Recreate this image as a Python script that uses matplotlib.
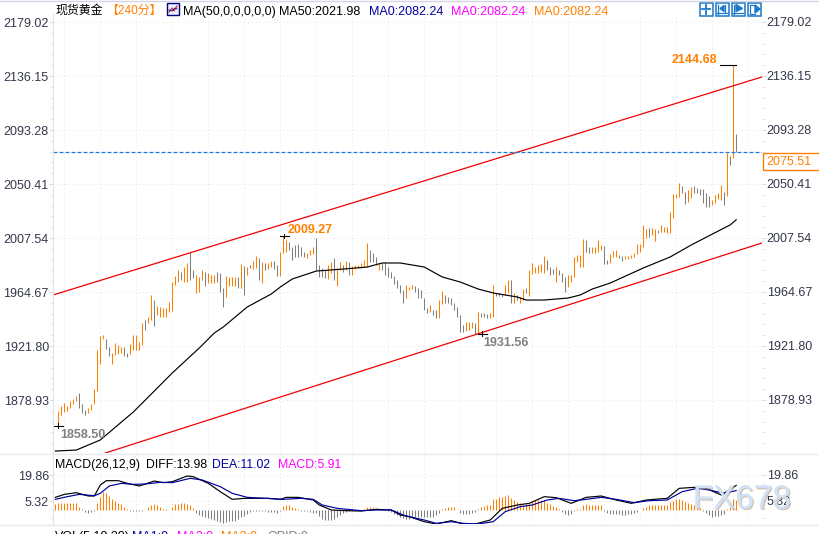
#!/usr/bin/env python3
"""Spot gold 240 minute chart with channel lines, MA50 and MACD panel."""

import numpy as np
import matplotlib
matplotlib.use('Agg')
import matplotlib.pyplot as plt
from matplotlib.patches import Rectangle, Polygon
from matplotlib.ticker import FixedLocator
from matplotlib import patheffects
from matplotlib.transforms import ScaledTranslation

plt.rcParams['font.family'] = ['Liberation Sans', 'Noto Sans CJK SC', 'DejaVu Sans']

ORANGE = '#ff8000'
GRAY = '#808080'
BLUE = '#1a78c8'

# bar data
highs = [
    1870.2, 1874.2, 1876.3, 1874.2, 1878.4, 1879.4, 1882.1, 1884.2, 1875.7, 1871.0, 1872.3, 1875.5,
    1887.4, 1918.6, 1929.7, 1930.5, 1927.3, 1921.2, 1916.0, 1924.4, 1922.6, 1920.7, 1921.2, 1916.5,
    1923.4, 1930.5, 1930.5, 1925.2, 1940.3, 1942.4, 1945.1, 1962.3, 1958.3, 1953.5, 1952.5, 1951.7,
    1951.7, 1957.0, 1972.8, 1977.3, 1982.1, 1980.8, 1984.2, 1987.9, 1996.1, 1982.1, 1978.1, 1976.8,
    1982.1, 1980.8, 1979.5, 1978.1, 1978.1, 1980.8, 1979.5, 1967.6, 1977.3, 1976.3, 1976.8, 1976.8,
    1976.3, 1986.9, 1985.3, 1984.2, 1986.1, 1989.5, 1993.2, 1991.4, 1988.7,
    1987.5, 1987.5, 1989.3, 1989.6, 1986.1, 1996.7, 2009.27, 2006.0, 2004.7, 2000.7, 2002.0, 2002.5,
    2000.2, 1996.7, 1995.9, 1998.0, 2000.7, 2007.3, 1986.1, 1983.5, 1982.2, 1986.1, 1988.8, 1991.4,
    1983.5, 1988.8, 1986.1, 1989.6, 1988.8, 1985.3, 1986.1, 1986.1, 1987.5, 1990.1, 2003.3, 1998.0,
    1995.4, 1992.8, 1987.5, 1988.0, 1988.8, 1984.8, 1980.8, 1977.7, 1974.2, 1970.3, 1966.3, 1970.3,
    1968.9, 1970.3, 1969.5, 1967.6, 1966.3, 1959.7, 1951.7, 1954.4, 1950.4, 1950.4, 1958.4, 1965.5,
    1962.3, 1960.5, 1959.7, 1955.7, 1953.1, 1946.5, 1938.5, 1941.2, 1941.2, 1941.2, 1939.8, 1949.1,
    1947.8, 1947.8, 1947.2, 1947.8, 1970.3, 1963.6, 1963.6, 1963.1, 1970.3, 1974.2,
    1974.2, 1963.6, 1962.3, 1961.0, 1966.8, 1967.6, 1982.1, 1987.4, 1984.8, 1986.1, 1986.9, 1993.3,
    1990.1, 1984.8, 1982.7, 1984.8, 1982.1, 1979.5, 1976.9, 1978.2, 1978.2, 1992.7, 1994.0, 1994.0,
    2006.8, 2006.0, 2000.7, 2000.7, 2000.1, 2006.0, 2002.0, 2001.2, 1990.1, 1994.8, 1997.5, 1998.0,
    1994.0, 1993.3, 1993.3, 1993.3, 1994.0, 1995.9, 2002.8, 2002.8, 2017.9, 2014.4, 2015.2, 2015.2,
    2014.4, 2013.9, 2017.9, 2016.5, 2016.5, 2028.4, 2042.5, 2042.5, 2050.9, 2048.8, 2044.3, 2045.7,
    2048.3, 2048.8, 2047.0, 2046.2, 2046.2, 2043.0, 2040.9, 2037.7, 2041.7, 2043.5, 2049.6, 2044.3,
    2074.8, 2072.6, 2144.68, 2090.1,
]
lows = [
    1858.5, 1867.0, 1869.7, 1870.2, 1872.3, 1875.7, 1878.4, 1872.3, 1868.3, 1867.0, 1868.3, 1871.0,
    1875.5, 1886.3, 1907.5, 1927.3, 1919.4, 1913.8, 1907.5, 1914.6, 1915.4, 1916.5, 1913.8, 1912.8,
    1915.4, 1918.6, 1918.6, 1918.6, 1922.6, 1934.5, 1939.8, 1942.4, 1937.7, 1946.4, 1945.1, 1945.1,
    1944.5, 1949.0, 1949.8, 1970.2, 1972.3, 1974.2, 1972.8, 1972.8, 1974.2, 1975.5, 1964.1, 1964.9,
    1974.2, 1969.4, 1971.5, 1971.5, 1971.5, 1972.8, 1964.9, 1953.0, 1960.9, 1969.4, 1969.4, 1969.4,
    1967.6, 1967.6, 1962.3, 1978.1, 1983.4, 1982.6, 1983.4, 1974.2, 1971.5,
    1982.2, 1983.0, 1984.3, 1982.7, 1977.4, 1977.7, 1995.9, 1996.7, 1998.0, 1990.1, 1992.2, 1992.8,
    1993.3, 1992.8, 1991.4, 1994.1, 1994.6, 1982.2, 1976.9, 1976.9, 1975.6, 1974.8, 1979.5, 1974.2,
    1969.5, 1982.2, 1980.8, 1982.2, 1978.2, 1978.2, 1982.7, 1983.5, 1983.5, 1984.3, 1984.8, 1988.8,
    1988.8, 1986.1, 1982.2, 1982.2, 1978.2, 1976.9, 1975.6, 1971.1, 1967.6, 1963.6, 1955.7, 1959.7,
    1966.3, 1966.8, 1965.0, 1959.7, 1959.7, 1950.4, 1947.8, 1949.1, 1946.5, 1943.8, 1943.8, 1955.2,
    1955.7, 1955.7, 1954.4, 1950.4, 1945.1, 1933.2, 1933.2, 1934.0, 1934.5, 1935.9, 1931.56, 1932.5,
    1945.1, 1944.6, 1943.8, 1943.8, 1944.6, 1961.5, 1961.5, 1961.0, 1962.3, 1963.6,
    1955.7, 1955.7, 1958.3, 1956.2, 1958.3, 1963.6, 1961.5, 1979.0, 1979.5, 1980.0, 1980.8, 1979.5,
    1982.1, 1978.2, 1979.0, 1972.9, 1978.2, 1972.9, 1965.0, 1968.9, 1972.9, 1976.9, 1988.8, 1984.3,
    1984.8, 1996.7, 1995.4, 1995.4, 1995.9, 1996.7, 1998.0, 1986.9, 1986.9, 1987.4, 1992.2, 1992.7,
    1991.4, 1989.6, 1990.6, 1990.6, 1991.4, 1992.2, 1994.8, 1996.7, 2000.7, 2007.3, 2008.1, 2009.9,
    2005.4, 2011.2, 2012.6, 2012.6, 2011.8, 2011.8, 2023.2, 2039.0, 2040.4, 2043.0, 2034.5, 2036.4,
    2039.0, 2043.0, 2043.0, 2041.7, 2035.6, 2031.9, 2031.9, 2033.7, 2035.1, 2038.2, 2037.7, 2033.7,
    2040.9, 2065.5, 2071.3, 2075.51,
]
# o = rising bar, g = falling bar
bar_dirs = (
    'ooooooo' 'ggg' 'oooooo' 'gg' 'oooo' 'gg' 'ooooo' 'g' 'oo' 'g' 'oooooooo' 'g' 'oo' 'gg' 'ooo' 'g'
    'ooo' 'ggg' 'oooo' 'g' 'o' 'g' 'o' 'g' 'oo' 'g' 'o'
    'goo' 'gg' 'ooo' 'gggggg' 'ooo' 'gggg' 'oo' 'g' 'oo' 'g' 'o' 'g' 'oooooo' 'ggg' 'o' 'gggggggg'
    'ooo' 'ggggg' 'o' 'gg' 'oo' 'ggggggg' 'ooo' 'g' 'o' 'ggg' 'oo' 'ggg' 'oo'
    'gog' 'oo' 'g' 'oooooo' 'ggg' 'o' 'ggg' 'oooooo' 'gg' 'oooo' 'gg' 'ooo' 'gg' 'oooooooo' 'g' 'oo'
    'g' 'ooooooo' 'gg' 'oo' 'gggggg' 'oooo' 'g' 'o' 'g' 'o' 'g'
)
assert len(highs) == len(lows) == len(bar_dirs)

ma50_idx = [-1, 6, 14, 25, 28, 38, 47, 52, 55, 63, 71, 74, 78, 86, 95, 103, 108, 114, 122, 128, 134,
            140, 145, 153, 156, 162, 170, 174, 178, 184, 195, 204, 211, 222, 224, 226]
ma50 = [1838.4, 1839.2, 1847.2, 1869.4, 1876.5, 1900.4, 1920.2, 1932.1, 1936.9, 1952.8, 1963.1, 1968.6,
        1975.0, 1981.3, 1982.9, 1984.5, 1987.7, 1987.7, 1984.5, 1976.6, 1972.6, 1967.0, 1963.9, 1960.7,
        1958.3, 1958.3, 1959.9, 1962.3, 1967.0, 1971.8, 1983.7, 1992.5, 2002.0, 2015.5, 2017.9, 2021.98]

# channel lines: bar position and price at both ends
upper_idx = [-1.77, 234.6]
upper_price = [1962.3, 2135.4]
lower_idx = [15.6, 234.6]
lower_price = [1836.8, 2003.6]

last_close = 2075.51
price_ticks = [2179.02, 2136.15, 2093.28, 2050.41, 2007.54, 1964.67, 1921.80, 1878.93]
macd_ticks = [19.86, 5.32]

diff_idx = [-1, 2, 6, 10, 12, 14, 16, 20, 23, 27, 32, 35, 38, 43, 45, 50, 54, 58, 62, 70, 74, 76, 80, 85,
            87, 91, 96, 101, 106, 111, 114, 117, 122, 126, 131, 135, 139, 144, 148, 153, 157, 162, 166,
            171, 176, 181, 186, 191, 196, 203, 207, 212, 216, 221, 226]
diff = [7.18, 8.87, 9.83, 7.94, 7.94, 14.18, 16.64, 16.64, 15.13, 13.62, 16.45, 15.51, 16.08, 19.29, 18.91,
        15.13, 10.4, 6.05, 6.62, 6.62, 6.05, 7.18, 7.18, 5.67, 2.83, 0.0, -0.38, -0.57, 0.37, 0.0, -2.84,
        -3.79, -6.63, -7.95, -6.06, -7.95, -7.95, -5.68, 0.94, 2.83, 3.78, 7.56, 6.99, 3.78, 7.18, 7.94,
        5.67, 3.78, 5.67, 6.62, 12.29, 12.86, 12.29, 8.51, 13.98]
dea_idx = [-1, 3, 7, 12, 14, 17, 21, 25, 29, 34, 38, 44, 48, 54, 58, 63, 69, 75, 81, 85, 88, 93, 101, 106,
           111, 115, 117, 122, 126, 131, 135, 140, 145, 149, 154, 158, 163, 167, 172, 176, 181, 186, 192,
           197, 203, 208, 213, 217, 222, 226]
dea = [6.05, 7.56, 8.87, 8.13, 9.45, 13.62, 15.13, 14.56, 14.75, 15.7, 15.51, 17.97, 17.02, 13.24, 9.45,
       7.18, 6.62, 6.05, 6.62, 6.05, 2.83, 0.94, -0.38, 0.0, 0.0, -2.84, -3.79, -5.68, -7.57, -6.63, -7.57,
       -7.95, -6.63, -0.95, 1.89, 2.83, 5.67, 6.62, 5.29, 6.05, 7.18, 6.05, 4.16, 5.29, 5.67, 10.4, 12.29,
       11.35, 9.45, 11.02]
macd_hist = [
    3.41, 3.78, 3.78, 3.78, 3.78, 3.78, 3.78, 3.78, 1.51, 0.38, -0.95, -1.51, -1.14, -0.57, 4.16, 7.57,
    10.41, 9.46, 7.95, 6.24, 5.11, 4.16, 3.41, 1.51, 0.38, -0.38, -0.38, -0.57, -0.76, -0.38, -0.19, 1.51,
    3.03, 3.41, 2.65, 1.51, 0.57, 0.38, -0.19, 1.89, 3.41, 3.59, 3.78, 3.78, 3.59, 2.65, 1.14, -1.51,
    -2.65, -3.41, -4.16, -4.73, -5.30, -5.68, -6.05, -6.62, -7.19, -6.62, -6.43, -6.24, -6.05, -5.30,
    -4.16, -3.41, -2.27, -1.14, -0.57, -0.38, -0.57, -0.76, -0.76, -0.95, -0.95, -1.14, -1.51, -0.57,
    2.27, 2.65, 2.65, 1.51, 0.95, 0.38, -0.38, -0.57, -0.57, -1.14, -1.51, -1.89, -3.41, -4.92, -5.68,
    -5.68, -5.68, -5.30, -3.78, -2.65, -1.89, -1.14, -0.76, -0.57, -0.38, -0.38, -0.19, 0.38, 1.51,
    1.89, 1.51, 1.14, 0.38, 0.19, -0.19, -0.38, -1.14, -2.27, -3.03, -3.78, -4.54, -4.92, -5.30,
    -3.78, -3.78, -3.78, -3.78, -3.78, -3.97, -3.97, -3.78, -3.03, -1.51, 0.57, 1.32, 1.70, 1.89, 1.89,
    0.19, -1.89, -2.27, -2.27, -2.27, -1.89, -1.14, 0.38, 1.51, 2.27, 2.84, 2.84, 6.05, 6.43, 7.19, 7.57,
    7.95, 8.51, 6.81, 5.68, 4.54, 3.78, 3.03, 3.41, 3.78, 5.30, 5.68, 5.68, 5.68, 5.68, 4.16, 3.41, 2.27,
    1.51, 0.76, -1.14, -2.27, -2.65, -2.27, -0.76, 0.38, 0.76, 3.03, 3.22, 3.03, 2.84, 2.65, 2.65, 2.65,
    -0.76, -1.89, -2.27, -2.27, -2.27, -2.27, -2.65, -2.65, -2.27, -2.27, -1.89, -0.95, -0.19, 1.14, 1.89,
    2.84, 2.84, 2.65, 2.65, 2.65, 2.65, 3.03, 4.54, 5.30, 6.05, 6.43, 5.68, 4.54, 4.16, 3.41, 2.65, 1.89,
    0.95, -0.38, -1.51, -2.65, -3.78, -3.41, -3.41, -3.03, -2.27, 0.38, 1.51, 6.43, 5.91,
]

W, H = 820, 534
X_LEFT, X_RIGHT = 53, 762


def panel(top, bottom):
    """Axes placed by pixel rows of the figure."""
    return fig.add_axes([X_LEFT / W, 1 - bottom / H, (X_RIGHT - X_LEFT) / W, (bottom - top) / H])


def style_panel(ax, ticks, minor_step):
    ax.set_xlim(-1.77, 234.6)
    ax.set_facecolor('none')
    for name in ['top', 'right', 'bottom']:
        ax.spines[name].set_visible(False)
    ax.spines['left'].set_color('#dfe3ea')
    ax.set_yticks(ticks)
    ax.set_yticklabels([f'{t:.2f}' for t in ticks])
    ax.yaxis.set_minor_locator(FixedLocator(np.arange(min(ticks) - 20 * minor_step,
                                                      max(ticks) + minor_step, minor_step)))
    ax.tick_params(axis='y', which='major', length=3, color='#d8dce4', labelsize=9,
                   labelcolor='#33384a', pad=0, right=True)
    ax.tick_params(axis='y', which='minor', length=2, color='#e0e3e8', right=True)
    ax.set_xticks(np.arange(1.8, 234, 12))
    ax.tick_params(axis='x', length=0, labelbottom=False)
    ax.grid(True, which='major', color='#e4e4e4', linestyle=(0, (1, 3)), linewidth=0.7)
    ax.set_axisbelow(True)
    nudge = ScaledTranslation(0, -1 / 100, fig.dpi_scale_trans)
    for lab in ax.get_yticklabels():
        lab.set_transform(lab.get_transform() + nudge)
    for t in ticks:
        ax.annotate(f'{t:.2f}', (1.0, t), xycoords=ax.get_yaxis_transform(), xytext=(3.4, -0.7),
                    textcoords='offset points', color='#33384a', fontsize=9, va='center', ha='left')


fig = plt.figure(figsize=(W / 100, H / 100), dpi=100, facecolor='white')

# price panel, y pixel scale fixed by the ticks
ax = panel(14, 453)
ax.set_ylim(2179.02 - (453 - 22) * 0.79389, 2179.02 + (22 - 14) * 0.79389)
style_panel(ax, price_ticks, 42.87 / 5)

idx = np.arange(len(highs))
colors = [ORANGE if d == 'o' else GRAY for d in bar_dirs]
ax.vlines(idx, lows, highs, colors=colors, linewidth=0.75)
ax.plot(ma50_idx, ma50, color='black', linewidth=0.85)
ax.plot(upper_idx, upper_price, color='#f00000', linewidth=0.9)
ax.plot(lower_idx, lower_price, color='#f00000', linewidth=0.9)
ax.axhline(last_close, color='#1a78e0', linewidth=0.9, linestyle=(0, (3.2, 1.6)))

# high / low marks
for xa, xb, price in [(220.6, 225.8, 2144.68), (74, 77, 2009.27), (-1.4, 1.4, 1858.5), (140, 143, 1931.56)]:
    ax.plot([xa, xb], [price, price], color='black', linewidth=0.8)
ax.plot([75.4, 75.4], [2007.5, 2011], color='black', linewidth=0.7)
ax.plot([0, 0], [1856.5, 1860.5], color='black', linewidth=0.7)
ax.plot([141.4, 141.4], [1929.6, 1933.5], color='black', linewidth=0.7)
ax.text(219.5, 2149, '2144.68', color=ORANGE, fontsize=9, fontweight='bold', ha='right', va='center')
ax.text(76.5, 2018.5, '2009.27', color=ORANGE, fontsize=9, fontweight='bold', ha='left', va='top')
ax.text(0.7, 1856, '1858.50', color=GRAY, fontsize=9, fontweight='bold', ha='left', va='top')
ax.text(141.8, 1929, '1931.56', color=GRAY, fontsize=9, fontweight='bold', ha='left', va='top')

# MACD panel: 0 sits on row 510, 19.86 on row 475
ax2 = panel(455, 524)
scale = 35 / 19.86
ax2.set_ylim((510 - 524) / scale, (510 - 455) / scale)
style_panel(ax2, macd_ticks, 14.54 / 3)
hist_idx = np.arange(-1, len(macd_hist) - 1)
hist_colors = [ORANGE if v >= 0 else GRAY for v in macd_hist]
ax2.vlines(hist_idx, 0, macd_hist, colors=hist_colors, linewidth=0.75)
ax2.plot(diff_idx, diff, color='black', linewidth=0.85)
ax2.plot(dea_idx, dea, color='#0000a0', linewidth=0.85)

# panel separators and top edge
for y, c in [(453.5, '#e6eaf0'), (524.5, '#e6eaf0'), (0.5, '#d4d4e4')]:
    fig.add_artist(plt.Line2D([0, 1], [1 - y / H, 1 - y / H], color=c, linewidth=1.0))


def label(x, y, text, color='black', **kw):
    fig.text(x / W, 1 - y / H, text, color=color, fontsize=kw.pop('fontsize', 9), va='center', ha='left', **kw)


label(55, 11, '现货黄金', fontsize=8.6)
label(106, 11, '【240分】', ORANGE, fontsize=8.6)
label(183, 12, 'MA(50,0,0,0,0,0)')
label(279, 12, 'MA50:2021.98')
label(369, 12, 'MA0:2082.24', '#0000a0')
label(451, 12, 'MA0:2082.24', '#ff00ff')
label(534, 12, 'MA0:2082.24', ORANGE)
label(55, 465, 'MACD(26,12,9)', fontsize=8.8)
label(146, 465, 'DIFF:13.98', fontsize=8.8)
label(212, 465, 'DEA:11.02', '#0000a0', fontsize=8.8)
label(278, 465, 'MACD:5.91', '#ff00ff', fontsize=8.8)
label(55, 537, 'VOL(5,10,20)')
label(132, 537, 'MA1:0', '#0000a0')
label(177, 537, 'MA2:0', '#ff00ff')
label(221, 537, 'MA3:0', ORANGE)
label(267, 537, 'OPID:0', GRAY)


def fig_line(xs, ys, color=BLUE, lw=1.0):
    fig.add_artist(plt.Line2D(np.array(xs) / W, 1 - np.array(ys) / H, color=color, linewidth=lw))


# indicator icon next to the MA legend
fig.add_artist(Rectangle((167 / W, 1 - 15 / H), 12 / W, 12 / H, facecolor='#e8eefc',
                         edgecolor='#000080', linewidth=1.0, transform=fig.transFigure))
fig_line([169, 172, 174, 177], [12, 8, 11, 6], '#e02020', 0.8)
fig_line([169, 172, 175, 177], [10, 11, 8, 9], '#000080', 0.6)

# toolbar buttons, top right
BTN = [700, 716, 732, 748]
for bx in BTN:
    fig.add_artist(Rectangle((bx / W, 1 - 15.5 / H), 13 / W, 12.5 / H, facecolor='white',
                             edgecolor=BLUE, linewidth=1.1, transform=fig.transFigure))
# crosshair
fig_line([702.5, 705.5], [9, 9], lw=1.3)
fig_line([707.5, 710.5], [9, 9], lw=1.3)
fig_line([706.5, 706.5], [5, 7.5], lw=1.3)
fig_line([706.5, 706.5], [10.5, 13.5], lw=1.3)
# axis with bar and left arrow, axis with right arrow, box with arrow
fig_line([718.5, 718.5], [4.5, 14], lw=0.9)
fig_line([717.5, 727.5], [12.5, 12.5], lw=0.9)
fig_line([725.5, 725.5], [5, 12], lw=0.9)
fig.add_artist(Polygon(np.array([[720 / W, 1 - 8.5 / H], [724 / W, 1 - 5.5 / H], [724 / W, 1 - 11.5 / H]]),
                       color=BLUE, transform=fig.transFigure))
fig_line([734.5, 734.5], [4.5, 14], lw=0.9)
fig_line([733.5, 743.5], [12.5, 12.5], lw=0.9)
fig.add_artist(Polygon(np.array([[736 / W, 1 - 4.5 / H], [742.5 / W, 1 - 8.5 / H], [736 / W, 1 - 11.5 / H]]),
                       color=BLUE, transform=fig.transFigure))
fig_line([750.5, 750.5], [5, 13.5], lw=0.9)
fig_line([750.5, 755], [5, 5], lw=0.9)
fig_line([750.5, 755], [13.5, 13.5], lw=0.9)
fig.add_artist(Polygon(np.array([[755 / W, 1 - 5 / H], [760 / W, 1 - 9 / H], [755 / W, 1 - 13 / H]]),
                       color=BLUE, transform=fig.transFigure))

# last price tag
fig.add_artist(Rectangle((763 / W, 1 - 170 / H), 58 / W, 17 / H, facecolor='white',
                         edgecolor=ORANGE, linewidth=1.0, transform=fig.transFigure))
label(766, 162, f'{last_close:.2f}', ORANGE)

# watermark
wm = fig.text(742 / W, 1 - 500 / H, 'FX678', color='#d0e2f4', fontsize=24, ha='center', va='center',
              alpha=0.92, fontfamily='Liberation Sans')
wm.set_path_effects([patheffects.withSimplePatchShadow(offset=(1, -1), shadow_rgbFace='#b0a090', alpha=0.6),
                     patheffects.Normal()])

fig.savefig('out.png', dpi=100)
